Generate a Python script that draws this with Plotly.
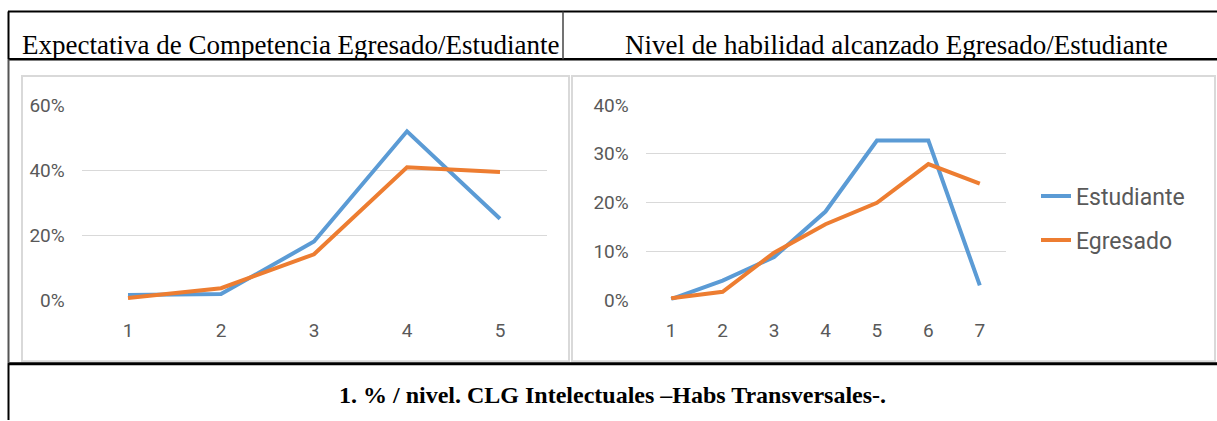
import plotly.graph_objects as go

W, H = 1217, 432

# data
niveles_izq = [1, 2, 3, 4, 5]
estudiante_izq = [0.017, 0.020, 0.181, 0.519, 0.251]
egresado_izq = [0.008, 0.038, 0.142, 0.409, 0.394]

niveles_der = [1, 2, 3, 4, 5, 6, 7]
estudiante_der = [0.003, 0.041, 0.089, 0.182, 0.327, 0.327, 0.031]
egresado_der = [0.005, 0.018, 0.098, 0.156, 0.200, 0.279, 0.239]

titulo_izq = "Expectativa de Competencia Egresado/Estudiante"
titulo_der = "Nivel de habilidad alcanzado Egresado/Estudiante"
pie = "1. % / nivel. CLG Intelectuales –Habs Transversales-."

AZUL = "#5B9BD5"
NARANJA = "#ED7D31"
GRIS = "#595959"


def px(x):
    return x / W


def py(y):
    # picture comes out slightly squashed vertically, compensate
    return 1 - ((y - 10.5) / 0.953) / H


fig = go.Figure()

fig.add_trace(go.Scatter(x=niveles_izq, y=estudiante_izq, mode="lines", name="Estudiante",
                         line=dict(color=AZUL, width=4), xaxis="x", yaxis="y", showlegend=False))
fig.add_trace(go.Scatter(x=niveles_izq, y=egresado_izq, mode="lines", name="Egresado",
                         line=dict(color=NARANJA, width=4), xaxis="x", yaxis="y", showlegend=False))
fig.add_trace(go.Scatter(x=niveles_der, y=estudiante_der, mode="lines", name="Estudiante",
                         line=dict(color=AZUL, width=4), xaxis="x2", yaxis="y2", legendgroup="a"))
fig.add_trace(go.Scatter(x=niveles_der, y=egresado_der, mode="lines", name="Egresado",
                         line=dict(color=NARANJA, width=4), xaxis="x2", yaxis="y2", legendgroup="b"))

tick_font = dict(family="Roboto", size=19, color=GRIS)
y_dom = [py(302), py(105)]

xaxis_common = dict(showgrid=False, zeroline=False, showline=False, ticks="outside", ticklen=13,
                    tickcolor="rgba(0,0,0,0)", tickfont=tick_font, fixedrange=True)
yaxis_common = dict(showgrid=True, gridcolor="#D9D9D9", gridwidth=1, zeroline=False, showline=False,
                    tickformat=".0%", ticks="outside", ticklen=12, tickcolor="rgba(0,0,0,0)",
                    tickfont=tick_font, fixedrange=True)

fig.update_layout(
    width=W, height=H,
    margin=dict(l=0, r=0, t=0, b=0),
    paper_bgcolor="white", plot_bgcolor="white",
    xaxis=dict(domain=[px(81.5), px(546.5)], range=[0.5, 5.5], tickvals=niveles_izq, anchor="y",
               **xaxis_common),
    yaxis=dict(domain=y_dom, range=[0, 0.6], tickvals=[0, 0.2, 0.4, 0.6], anchor="x", **yaxis_common),
    xaxis2=dict(domain=[px(645.5), px(1005.5)], range=[0.5, 7.5], tickvals=niveles_der, anchor="y2",
                **xaxis_common),
    yaxis2=dict(domain=y_dom, range=[0, 0.4], tickvals=[0, 0.1, 0.2, 0.3, 0.4], anchor="x2",
                **yaxis_common),
    legend=dict(x=px(1036), y=py(219), xanchor="left", yanchor="middle", tracegroupgap=11,
                font=dict(family="Roboto", size=23, color=GRIS), bgcolor="rgba(0,0,0,0)",
                itemwidth=30),
)

# table lines and chart frames
shapes = [
    dict(type="rect", x0=px(22), x1=px(569), y0=py(76), y1=py(363), line=dict(color="#D9D9D9", width=2)),
    dict(type="rect", x0=px(572), x1=px(1215), y0=py(76), y1=py(363), line=dict(color="#D9D9D9", width=2)),
    dict(type="line", x0=px(8), x1=1, y0=py(11), y1=py(11), line=dict(color="black", width=2)),
    dict(type="line", x0=px(8), x1=1, y0=py(59), y1=py(59), line=dict(color="black", width=2.5)),
    dict(type="line", x0=px(8), x1=1, y0=py(365.5), y1=py(365.5), line=dict(color="black", width=3)),
    dict(type="line", x0=px(8.5), x1=px(8.5), y0=py(11), y1=py(59), line=dict(color="black", width=2)),
    dict(type="line", x0=px(8.5), x1=px(8.5), y0=py(59), y1=py(365), line=dict(color="#555555", width=2)),
    dict(type="line", x0=px(8.5), x1=px(8.5), y0=py(365), y1=0, line=dict(color="black", width=2)),
    dict(type="line", x0=px(563), x1=px(563), y0=py(11), y1=py(59), line=dict(color="#444444", width=1.5)),
]
for s in shapes:
    s.update(xref="paper", yref="paper", layer="below")
fig.update_layout(shapes=shapes)

serif = "Liberation Serif"
fig.add_annotation(x=px(20), y=py(45), xref="paper", yref="paper", xanchor="left", yanchor="middle",
                   text=titulo_izq, showarrow=False, font=dict(family=serif, size=27, color="black"))
fig.add_annotation(x=px(896), y=py(45), xref="paper", yref="paper", xanchor="center", yanchor="middle",
                   text=titulo_der, showarrow=False, font=dict(family=serif, size=27, color="black"))
fig.add_annotation(x=px(612), y=py(397), xref="paper", yref="paper", xanchor="center", yanchor="middle",
                   text="<b>" + pie + "</b>", showarrow=False, font=dict(family=serif, size=24, color="black"))

fig.write_html("out.html", config={"displayModeBar": False},
               post_script="document.body.style.margin='0';document.body.style.overflow='hidden';")
